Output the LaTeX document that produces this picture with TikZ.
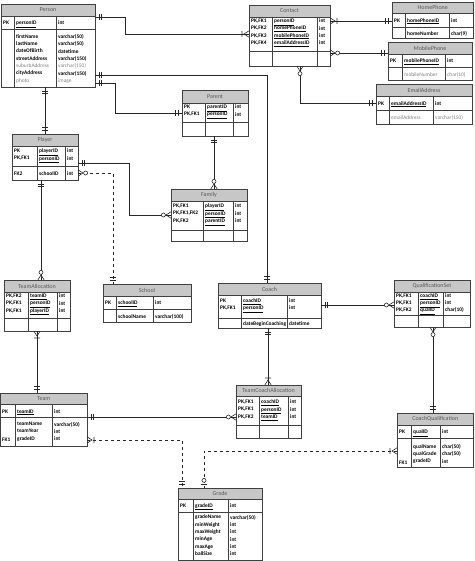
\documentclass[tikz,border=0pt]{standalone}
\usepackage{fontspec}
\setmainfont{Carlito}
\usepackage{tikz}
\usetikzlibrary{decorations.markings}

\newcommand{\rowfont}{\fontsize{5.4}{7.3}\selectfont}
\newcommand{\titlefont}{\fontsize{6}{7}\selectfont}
\newcommand{\kf}[1]{\underline{#1}}
\newcommand{\op}[1]{{\mdseries\color{black!50}#1}}

% crow's foot ends, drawn with the box edge at the origin
\newcommand{\mkone}{\draw[mk] (-4pt,-3pt) -- (-4pt,3pt) (-6.5pt,-3pt) -- (-6.5pt,3pt);}
\newcommand{\mkomany}{\draw[mk] (0,-3.2pt) -- (-5pt,0) -- (0,3.2pt) (-7pt,-3pt) -- (-7pt,3pt);}
\newcommand{\mkzmany}{\draw[mk] (0,-3.2pt) -- (-5pt,0) -- (0,3.2pt); \draw[mk,fill=white] (-7.6pt,0) circle (2pt);}
\newcommand{\mkzone}{\draw[mk] (-4pt,-3pt) -- (-4pt,3pt); \draw[mk,fill=white] (-7.6pt,0) circle (2pt);}

% name, title, x1, y1, x2, y2, title bottom, key bottom, column lines
\newcommand{\ertable}[9]{%
  \node[tablebox, anchor=north west, minimum width=#5pt-#3pt, minimum height=#6pt-#4pt] (#1) at (#3,#4) {};
  \fill[titlebar] (#3,#4) rectangle (#5,#7);
  \draw[tableline] (#3,#7) -- (#5,#7) (#3,#8) -- (#5,#8);
  \foreach \cx in {#9} \draw[tableline] (\cx,#7) -- (\cx,#6);
  \draw[tableline] (#3,#4) rectangle (#5,#6);
  \node[titletext] (#1-title) at ({(#3+#5)/2},{(#4+#7)/2}) {#2};
}

\tikzset{
  tablebox/.style={inner sep=0pt, outer sep=0pt},
  titlebar/.style={fill=black!22},
  tableline/.style={draw=black!75, line width=0.5pt},
  titletext/.style={font=\titlefont, text=black!65, inner sep=0pt},
  txt/.style={anchor=north west, inner sep=0pt, align=left, font=\rowfont\bfseries, execute at begin node=\strut},
  rel/.style={draw=black!85, line width=0.7pt},
  mk/.style={solid, draw=black!85, line width=0.6pt},
  s one/.style={postaction={decorate, decoration={markings, mark=at position 0 with {\begin{scope}[xscale=-1]\mkone\end{scope}}}}},
  s omany/.style={postaction={decorate, decoration={markings, mark=at position 0 with {\begin{scope}[xscale=-1]\mkomany\end{scope}}}}},
  s zmany/.style={postaction={decorate, decoration={markings, mark=at position 0 with {\begin{scope}[xscale=-1]\mkzmany\end{scope}}}}},
  e one/.style={postaction={decorate, decoration={markings, mark=at position 1 with {\mkone}}}},
  e omany/.style={postaction={decorate, decoration={markings, mark=at position 1 with {\mkomany}}}},
  e zmany/.style={postaction={decorate, decoration={markings, mark=at position 1 with {\mkzmany}}}},
  e zone/.style={postaction={decorate, decoration={markings, mark=at position 1 with {\mkzone}}}}
}

\begin{document}
\begin{tikzpicture}[x=1pt, y=-1pt]
  \useasboundingbox (0,0) rectangle (474,561);

  % tables
  \ertable{person}{Person}{1}{4}{95}{87}{16}{29}{14,56}
  \node[txt] (personK1) at (3,19.4) {PK};
  \node[txt] (personK2) at (16,19.4) {\kf{personID}};
  \node[txt] (personK3) at (58,19.4) {int};
  \node[txt] (personA1) at (16,34.4) {firstName\\lastName\\dateOfBirth\\streetAddress\\\op{suburbAddress}\\cityAddress\\\op{photo}};
  \node[txt] (personA2) at (58,34.4) {varchar(50)\\varchar(50)\\datetime\\varchar(150)\\\op{varchar(150)}\\varchar(150)\\\op{image}};

  \ertable{contact}{Contact}{249}{5}{330}{66}{17}{51}{272,317}
  \node[txt] (contactK1) at (251,18.9) {PK,FK1\\PK,FK2\\PK,FK3\\PK,FK4};
  \node[txt] (contactK2) at (274,18.9) {\kf{personID}\\\kf{homePhoneID}\\\kf{mobilePhoneID}\\\kf{emailAddressID}};
  \node[txt] (contactK3) at (319,18.9) {int\\int\\int\\int};

  \ertable{homephone}{HomePhone}{392}{2}{473.5}{38}{13}{27}{405,449}
  \node[txt] (homephoneK1) at (394,16.9) {PK};
  \node[txt] (homephoneK2) at (407,16.9) {\kf{homePhoneID}};
  \node[txt] (homephoneK3) at (451,16.9) {int};
  \node[txt] (homephoneA1) at (407,29.9) {homeNumber};
  \node[txt] (homephoneA2) at (451,29.9) {char(9)};

  \ertable{mobilephone}{MobilePhone}{388}{42}{472}{80}{54}{67}{402,445}
  \node[txt] (mobilephoneK1) at (390,57.4) {PK};
  \node[txt] (mobilephoneK2) at (404,57.4) {\kf{mobilePhoneID}};
  \node[txt] (mobilephoneK3) at (447,57.4) {int};
  \node[txt] (mobilephoneA1) at (404,70.9) {\op{mobileNumber}};
  \node[txt] (mobilephoneA2) at (447,70.9) {\op{char(10)}};

  \ertable{email}{EmailAddress}{376}{84}{472}{124}{96}{110}{389,433}
  \node[txt] (emailK1) at (378,99.9) {PK};
  \node[txt] (emailK2) at (391,99.9) {\kf{emailAddressID}};
  \node[txt] (emailK3) at (435,99.9) {int};
  \node[txt] (emailA1) at (391,113.9) {\op{emailAddress}};
  \node[txt] (emailA2) at (435,113.9) {\op{varchar(150)}};

  \ertable{parent}{Parent}{182}{90}{248}{136}{103}{122}{205,233}
  \node[txt] (parentK1) at (184,104.9) {PK\\PK,FK1};
  \node[txt] (parentK2) at (207,104.9) {\kf{parentID}\\\kf{personID}};
  \node[txt] (parentK3) at (235,104.9) {int\\int};

  \ertable{player}{Player}{12}{134}{78}{180}{146}{166}{37,65}
  \node[txt] (playerK1) at (14,148.9) {PK\\PK,FK1};
  \node[txt] (playerK2) at (39,148.9) {\kf{playerID}\\\kf{personID}};
  \node[txt] (playerK3) at (67,148.9) {int\\int};
  \node[txt] (playerA0) at (14,169.9) {FK2};
  \node[txt] (playerA1) at (39,169.9) {schoolID};
  \node[txt] (playerA2) at (67,169.9) {int};

  \ertable{family}{Family}{171}{189}{247}{241}{201}{230}{203,233}
  \node[txt] (familyK1) at (173,203.9) {PK,FK1\\PK,FK1,FK2\\PK,FK2};
  \node[txt] (familyK2) at (205,203.9) {\kf{playerID}\\\kf{personID}\\\kf{parentID}};
  \node[txt] (familyK3) at (235,203.9) {int\\int\\int};

  \ertable{teamalloc}{TeamAllocation}{4}{280}{70}{331}{292}{318}{28,57}
  \node[txt] (teamallocK1) at (6,293.9) {PK,FK2\\PK,FK1\\PK,FK1};
  \node[txt] (teamallocK2) at (30,293.9) {\kf{teamID}\\\kf{personID}\\\kf{playerID}};
  \node[txt] (teamallocK3) at (59,293.9) {int\\int\\int};

  \ertable{school}{School}{103}{284}{191}{322}{296}{309}{116,153}
  \node[txt] (schoolK1) at (105,299.4) {PK};
  \node[txt] (schoolK2) at (118,299.4) {\kf{schoolID}};
  \node[txt] (schoolK3) at (155,299.4) {int};
  \node[txt] (schoolA1) at (118,312.9) {schoolName};
  \node[txt] (schoolA2) at (155,312.9) {varchar(100)};

  \ertable{coach}{Coach}{218}{283}{321}{328}{295}{318}{241,287}
  \node[txt] (coachK1) at (220,298.4) {PK\\PK,FK1};
  \node[txt] (coachK2) at (243,298.4) {\kf{coachID}\\\kf{personID}};
  \node[txt] (coachK3) at (289,298.4) {int\\int};
  \node[txt] (coachA1) at (243,319.9) {dateBeginCoaching};
  \node[txt] (coachA2) at (289,319.9) {datetime};

  \ertable{qualset}{QualificationSet}{394}{280}{470}{327}{292}{315}{418,443}
  \node[txt] (qualsetK1) at (396,293.4) {PK,FK1\\PK,FK1\\PK,FK2};
  \node[txt] (qualsetK2) at (420,293.4) {\kf{coachID}\\\kf{personID}\\\kf{qualID}};
  \node[txt] (qualsetK3) at (445,293.4) {int\\int\\char(10)};

  \ertable{team}{Team}{0.5}{393}{87}{446}{404}{417}{15,52}
  \node[txt] (teamK1) at (2,407.9) {PK};
  \node[txt] (teamK2) at (17,407.9) {\kf{teamID}};
  \node[txt] (teamK3) at (54,407.9) {int};
  \node[txt] (teamA0) at (2,435.9) {FK1};
  \node[txt] (teamA1) at (17,421.9) {teamName\\teamYear\\gradeID};
  \node[txt] (teamA2) at (54,421.9) {varchar(50)\\int\\int};

  \ertable{teamcoach}{TeamCoachAllocation}{236}{385}{301}{438}{396}{425}{259,288}
  \node[txt] (teamcoachK1) at (238,399.9) {PK,FK1\\PK,FK1\\PK,FK2};
  \node[txt] (teamcoachK2) at (261,399.9) {\kf{coachID}\\\kf{personID}\\\kf{teamID}};
  \node[txt] (teamcoachK3) at (290,399.9) {int\\int\\int};

  \ertable{coachqual}{CoachQualification}{397}{413}{473.5}{467}{425}{438}{411,440}
  \node[txt] (coachqualK1) at (399,428.4) {PK};
  \node[txt] (coachqualK2) at (413,428.4) {\kf{qualID}};
  \node[txt] (coachqualK3) at (442,428.4) {int};
  \node[txt] (coachqualA0) at (399,458.9) {FK1};
  \node[txt] (coachqualA1) at (413,444.4) {qualName\\qualGrade\\gradeID};
  \node[txt] (coachqualA2) at (442,444.4) {char(50)\\char(50)\\int};

  \ertable{grade}{Grade}{178}{488}{262}{560}{499}{512}{193,228}
  \node[txt] (gradeK1) at (180,501.9) {PK};
  \node[txt] (gradeK2) at (195,501.9) {\kf{gradeID}};
  \node[txt] (gradeK3) at (230,501.9) {int};
  \node[txt] (gradeA1) at (195,514.9) {gradeName\\minWeight\\maxWeight\\minAge\\maxAge\\ballSize};
  \node[txt] (gradeA2) at (230,514.9) {varchar(50)\\int\\int\\int\\int\\int};

  % relationships
  \draw[rel, s one, e omany] (person.east |- 0,17) -| (125,34) -- (contact.west |- 0,34);
  \draw[rel, s one, e one] (person.east |- 0,75) -| (coach.north -| 267,0);
  \draw[rel, s one, e one] (person.east |- 0,83) -| (115,113) -- (parent.west |- 0,113);
  \draw[rel, s one, e one] (person.south -| 45,0) -- (player.north -| 45,0);
  \draw[rel, s omany, e one] (contact.east |- 0,21) -- (homephone.west |- 0,21);
  \draw[rel, s zmany, e one] (contact.east |- 0,53) -- (mobilephone.west |- 0,53);
  \draw[rel, s zmany, e one] (contact.south -| 300,0) |- (email.west |- 0,103);
  \draw[rel, s one, e zmany] (player.east |- 0,163) -| (129,215) -- (family.west |- 0,215);
  \draw[rel, dashed, s zmany, e one] (player.east |- 0,173) -| (school.north -| 113,0);
  \draw[rel, s one, e zmany] (player.south -| 41,0) -- (teamalloc.north -| 41,0);
  \draw[rel, s one, e zmany] (parent.south -| 214,0) -- (family.north -| 214,0);
  \draw[rel, s one, e zmany] (coach.east |- 0,305) -- (qualset.west |- 0,305);
  \draw[rel, s zmany, e one] (qualset.south -| 433,0) -- (coachqual.north -| 433,0);
  \draw[rel, s one, e omany] (coach.south -| 268,0) -- (teamcoach.north -| 268,0);
  \draw[rel, s omany, e one] (teamalloc.south -| 37,0) -- (team.north -| 37,0);
  \draw[rel, s one, e zmany] (team.east |- 0,417) -- (teamcoach.west |- 0,417);
  \draw[rel, dashed, s omany, e one] (team.east |- 0,440) -| (grade.north -| 182,0);
  \draw[rel, dashed, s omany, e zone] (coachqual.west |- 0,451) -| (grade.north -| 204,0);
\end{tikzpicture}
\end{document}
